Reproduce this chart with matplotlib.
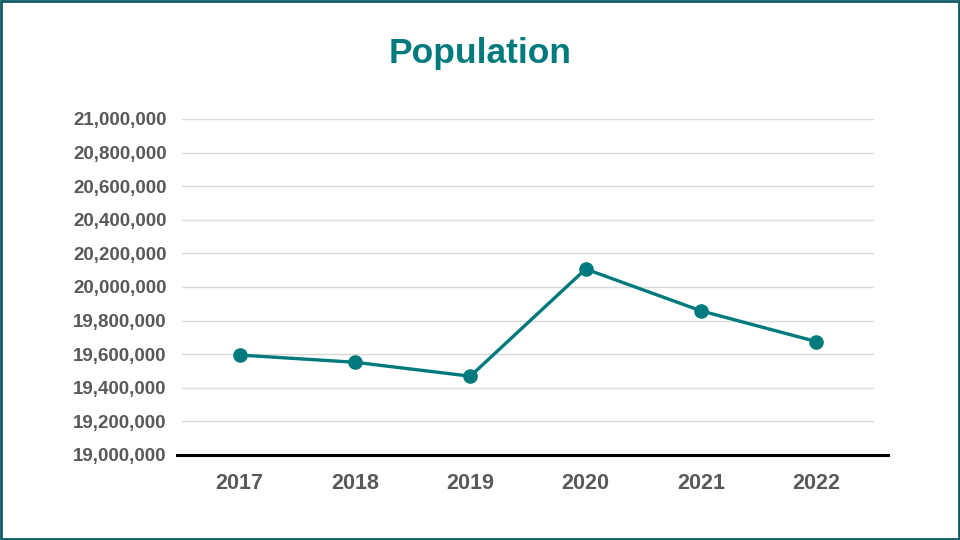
import matplotlib
matplotlib.use("Agg")
import matplotlib.pyplot as plt
from matplotlib.ticker import FuncFormatter, MultipleLocator
from matplotlib.lines import Line2D
from matplotlib.patches import Rectangle

years = ["2017", "2018", "2019", "2020", "2021", "2022"]
population = [19595000, 19552000, 19469000, 20107000, 19858000, 19675000]

teal = "#007A7C"
grey = "#595959"

plt.rcParams['font.family'] = ['Liberation Sans', 'DejaVu Sans']

fig = plt.figure(figsize=(9.6, 5.4), dpi=100)
ax = fig.add_axes([182/960, 1 - 455/540, (874 - 182)/960, (455 - 119)/540])

x = list(range(len(years)))
ax.plot(x, population, color=teal, linewidth=2.4, marker="o", markersize=9.5, zorder=3)

ax.set_xlim(-0.5, len(years) - 0.5)
ax.set_ylim(19000000, 21000000)
ax.yaxis.set_major_locator(MultipleLocator(200000))
ax.yaxis.set_major_formatter(FuncFormatter(lambda v, p: f"{int(round(v)):,}"))
ax.set_xticks(x)
ax.set_xticklabels(years)

ax.grid(axis="y", color="#D9D9D9", linewidth=1)
ax.set_axisbelow(True)
for s in ["top", "right", "left", "bottom"]:
    ax.spines[s].set_visible(False)
ax.tick_params(axis="both", length=0, colors=grey)
ax.tick_params(axis="y", pad=11, labelsize=13.5)
ax.tick_params(axis="x", pad=13, labelsize=15.5)
for lab in ax.get_xticklabels() + ax.get_yticklabels():
    lab.set_fontweight("bold")
    lab.set_color(grey)

# baseline axis line
fig.add_artist(Line2D([177/960, 888/960], [1 - 455/540, 1 - 455/540],
                      color="black", linewidth=2.2, transform=fig.transFigure))

fig.text(0.5, 1 - 54/540, "Population", ha="center", va="center",
         fontsize=25.5, fontweight="bold", color=teal)

fig.add_artist(Rectangle((0.001, 0.002), 0.998, 0.996, transform=fig.transFigure,
                         fill=False, edgecolor="#0F5C63", linewidth=2))

fig.savefig("out.png", dpi=100)
